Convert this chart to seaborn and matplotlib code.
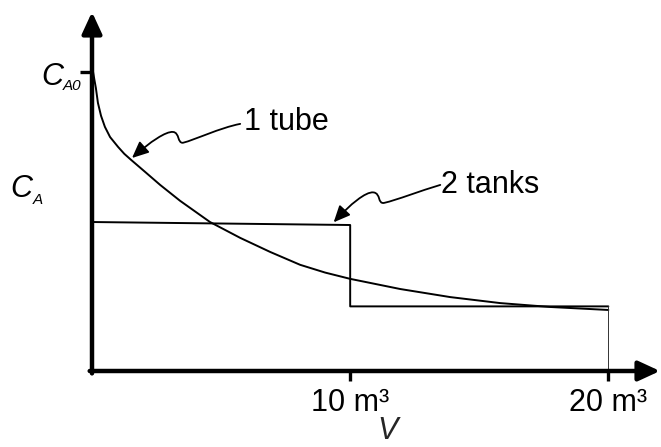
import matplotlib
matplotlib.use("Agg")
import matplotlib.pyplot as plt
from matplotlib.patches import FancyArrowPatch
from matplotlib.path import Path
import seaborn as sns

# concentration along 1 tube (C_A / C_A0 against volume in m3)
v_tube = [0.04, 0.1, 0.15, 0.23, 0.35, 0.5, 0.7, 1.01, 1.25, 1.51, 2.05, 2.64, 3.41, 4.57, 5.74,
          6.9, 8.06, 9.03, 10.0, 11.94, 13.88, 15.81, 17.75, 20.0]
c_tube = [1.0, 0.97, 0.946, 0.896, 0.853, 0.816, 0.782, 0.749, 0.726, 0.706, 0.666, 0.622,
          0.569, 0.498, 0.445, 0.398, 0.355, 0.329, 0.308, 0.274, 0.247, 0.227, 0.214, 0.204]

# 2 tanks in series, step profile
v_tanks = [0, 10, 10, 20]
c_tanks = [0.498, 0.488, 0.216, 0.216]
v_drop = [20, 20]
c_drop = [0.216, 0.0]

x_ticks = [10, 20]
x_tick_labels = ["10 m³", "20 m³"]
y_ticks = [1.0]

sns.set_style("ticks")
plt.rcParams["font.family"] = ["Liberation Sans", "DejaVu Sans"]
plt.rcParams["text.color"] = "black"

fig = plt.figure(figsize=(6.61, 4.47), dpi=100)
ax = fig.add_axes([92 / 661, 76 / 447, 568 / 661, 359 / 447])

sns.lineplot(x=v_tube, y=c_tube, ax=ax, color="black", lw=1.4, sort=False, estimator=None)
sns.lineplot(x=v_tanks, y=c_tanks, ax=ax, color="black", lw=1.4, sort=False, estimator=None)
sns.lineplot(x=v_drop, y=c_drop, ax=ax, color="#333333", lw=0.7, sort=False, estimator=None)

# axes drawn as arrows
for start, end in [((0, -0.008), (0, 1.2)), ((-0.09, 0), (22, 0))]:
    ax.annotate("", xy=end, xytext=start, annotation_clip=False,
                arrowprops=dict(arrowstyle="-|>,head_length=1.3,head_width=0.6",
                                mutation_scale=10, lw=3.2, color="black",
                                shrinkA=0, shrinkB=0))
for s in ax.spines.values():
    s.set_visible(False)

ax.set_xticks(x_ticks)
ax.set_xticklabels(x_tick_labels)
ax.set_yticks(y_ticks)
ax.set_yticklabels([""])
ax.tick_params(axis="x", direction="out", length=7.5, width=2.4, pad=5,
               labelsize=22, color="black", labelcolor="black")
ax.tick_params(axis="y", direction="out", length=9, width=2.4, color="black")

ax.set_xlabel("V", fontsize=22, style="italic")
ax.xaxis.set_label_coords(0.521, -0.19)
ax.xaxis.label.set_va("baseline")

# wavy pointer arrows
M, C4 = Path.MOVETO, Path.CURVE4
tube_ptr = [(5.74, 0.826), (4.96, 0.813), (3.99, 0.773), (3.53, 0.763),
            (3.30, 0.760), (3.40, 0.797), (3.14, 0.799),
            (2.87, 0.802), (2.25, 0.766), (1.55, 0.712)]
tank_ptr = [(13.49, 0.622), (12.71, 0.602), (11.82, 0.572), (11.32, 0.562),
            (11.05, 0.557), (11.2, 0.594), (10.9, 0.597),
            (10.6, 0.600), (10.0, 0.557), (9.36, 0.497)]
for pts in [tube_ptr, tank_ptr]:
    p = Path(pts, [M] + [C4] * 9)
    arr = FancyArrowPatch(path=p, arrowstyle="-|>,head_length=1.0,head_width=0.45",
                          mutation_scale=10, lw=1.3, color="black", clip_on=False)
    ax.add_patch(arr)

ax.text(5.9, 0.806, "1 tube", fontsize=22, va="baseline", ha="left")
ax.text(13.53, 0.595, "2 tanks", fontsize=22, va="baseline", ha="left")

# C_A0 and C_A labels on the left
fig.text(41 / 661, 1 - 85 / 447, "C", fontsize=22, style="italic", va="baseline")
fig.text(63 / 661, 1 - 90 / 447, "A0", fontsize=11, style="italic", va="baseline")
fig.text(10 / 661, 1 - 197 / 447, "C", fontsize=22, style="italic", va="baseline")
fig.text(33 / 661, 1 - 204 / 447, "A", fontsize=11, style="italic", va="baseline")

ax.set_xlim(0, 22)
ax.set_ylim(0, 1.2)

fig.savefig("out.png", dpi=100)
